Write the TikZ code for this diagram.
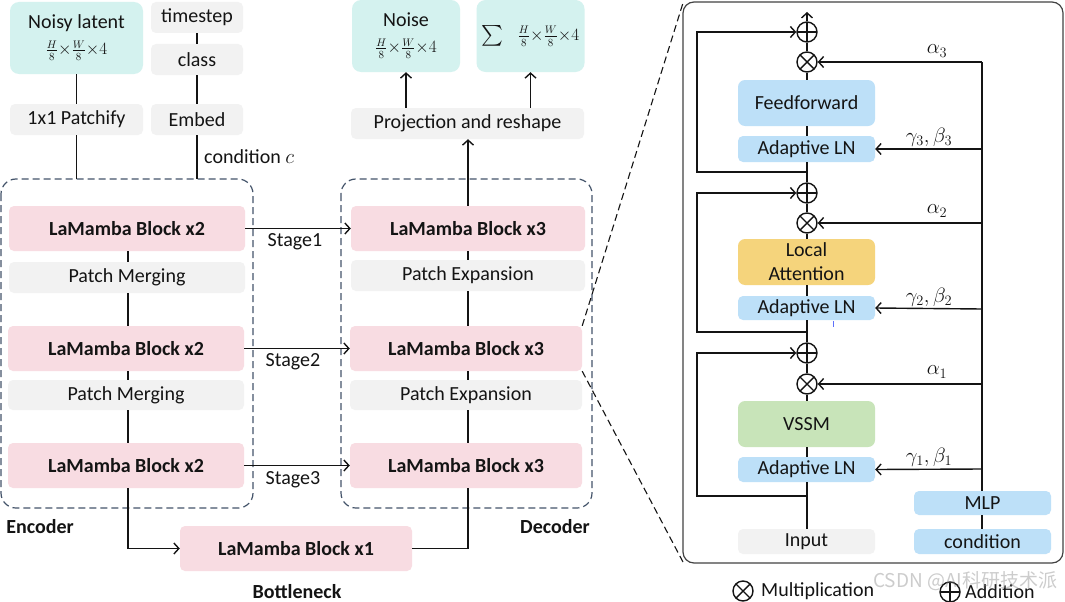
\documentclass[tikz,border=0pt]{standalone}
\usepackage{amsmath}
\usepackage{fontspec}
\setmainfont{Carlito}
\newfontfamily\cjkfont{Noto Sans CJK SC}
\usetikzlibrary{arrows.meta,calc}
\definecolor{cyanbox}{RGB}{212,242,239}
\definecolor{graybox}{RGB}{242,242,242}
\definecolor{pinkbox}{RGB}{248,220,226}
\definecolor{bluebox}{RGB}{189,224,248}
\definecolor{goldbox}{RGB}{245,212,124}
\definecolor{greenbox}{RGB}{200,228,185}
\definecolor{dashc}{RGB}{68,84,106}
\definecolor{txt}{RGB}{20,20,20}
\newcommand\myfs{\fontsize{20}{24}\selectfont}
\newcommand\myfrac{{\fontsize{16}{17}\selectfont$\frac{H}{8}{\times}\frac{W}{8}{\times}4$}}
\tikzset{
  box/.style={rounded corners=5pt, inner sep=0pt, font=\myfs, text=txt, align=center},
  bigbox/.style={box, rounded corners=9pt},
  conn/.style={line width=1.4pt, draw=txt},
  arr/.style={conn, -{Straight Barb[length=5pt,width=11pt,line width=1.4pt]}},
  grp/.style={draw=dashc, dashed, dash pattern=on 7pt off 4pt, line width=1.2pt, rounded corners=15pt},
  zoomline/.style={draw=txt, dashed, dash pattern=on 7pt off 4pt, line width=1.1pt},
  lbl/.style={font=\myfs, text=txt, inner sep=0pt},
  otimesn/.style={circle, draw=txt, line width=1.4pt, minimum size=20pt, inner sep=0pt,
    path picture={\draw[line width=1.4pt, draw=txt] (path picture bounding box.north west) -- (path picture bounding box.south east) (path picture bounding box.north east) -- (path picture bounding box.south west);}},
  oplusn/.style={circle, draw=txt, line width=1.4pt, minimum size=20pt, inner sep=0pt,
    path picture={\draw[line width=1.4pt, draw=txt] (path picture bounding box.north) -- (path picture bounding box.south) (path picture bounding box.east) -- (path picture bounding box.west);}},
}
\begin{document}
\begin{tikzpicture}[x=1pt,y=-1pt]
\useasboundingbox[fill=white] (0,0) rectangle (1065,602);

% ---------- top left inputs ----------
\node[bigbox, fill=cyanbox, minimum width=133pt, minimum height=72pt] (nl) at (76.5,38) {Noisy latent\\[2pt]\myfrac};
\node[box, fill=graybox, minimum width=92pt, minimum height=31pt] (ts) at (197,17.5) {timestep};
\node[box, fill=graybox, minimum width=92pt, minimum height=31pt] (cls) at (197,59.5) {class};
\node[box, fill=graybox, minimum width=133pt, minimum height=31pt] (pat) at (76.5,119.5) {1x1 Patchify};
\node[box, fill=graybox, minimum width=92pt, minimum height=31pt] (emb) at (197,119.5) {Embed};

% ---------- encoder ----------
\draw[grp] (1,179) rectangle (253,508);
\coordinate (enctopA) at (76.5,179);
\coordinate (enctopB) at (197,179);
\node[box, fill=pinkbox, font=\myfs\bfseries, minimum width=236pt, minimum height=45pt] (e1) at (127,228.5) {LaMamba Block x2};
\node[box, fill=graybox, minimum width=236pt, minimum height=31pt] (pm1) at (127,277.5) {Patch Merging};
\node[box, fill=pinkbox, font=\myfs\bfseries, minimum width=236pt, minimum height=45pt] (e2) at (126,348.5) {LaMamba Block x2};
\node[box, fill=graybox, minimum width=236pt, minimum height=30pt] (pm2) at (126,395) {Patch Merging};
\node[box, fill=pinkbox, font=\myfs\bfseries, minimum width=236pt, minimum height=45pt] (e3) at (126,465.5) {LaMamba Block x2};

% ---------- decoder ----------
\draw[grp] (341,179) rectangle (592,508);
\node[box, fill=pinkbox, font=\myfs\bfseries, minimum width=234pt, minimum height=45pt] (d1) at (468,228.5) {LaMamba Block x3};
\node[box, fill=graybox, minimum width=234pt, minimum height=31pt] (pe1) at (468,275.5) {Patch Expansion};
\node[box, fill=pinkbox, font=\myfs\bfseries, minimum width=232pt, minimum height=45pt] (d2) at (466,348.5) {LaMamba Block x3};
\node[box, fill=graybox, minimum width=232pt, minimum height=30pt] (pe2) at (466,395) {Patch Expansion};
\node[box, fill=pinkbox, font=\myfs\bfseries, minimum width=232pt, minimum height=45pt] (d3) at (466,465.5) {LaMamba Block x3};

% ---------- bottleneck ----------
\node[box, fill=pinkbox, font=\myfs\bfseries, minimum width=232pt, minimum height=45pt] (bot) at (296,548.5) {LaMamba Block x1};

% ---------- outputs ----------
\node[box, fill=graybox, minimum width=233pt, minimum height=31pt] (proj) at (467.5,123.5) {Projection and reshape};
\node[bigbox, fill=cyanbox, minimum width=108pt, minimum height=72pt] (noise) at (406,36) {Noise\\[2pt]\myfrac};
\node[bigbox, fill=cyanbox, minimum width=108pt, minimum height=72pt] (sum) at (530.5,36) {$\sum$\hspace{14pt}\myfrac};

% ---------- left connectors ----------
\draw[conn] (nl.south) -- (pat.north);
\draw[conn] (pat.south) -- (enctopA);
\draw[conn] (ts.south) -- (cls.north);
\draw[conn] (cls.south) -- (emb.north);
\draw[conn] (emb.south) -- (enctopB);
\node[lbl, anchor=west] (condlbl) at (204,157) {condition $c$};

\draw[conn] (e1.south -| 128,0) -- (pm1.north -| 128,0);
\draw[conn] (pm1.south -| 128,0) -- (e2.north -| 128,0);
\draw[conn] (e2.south -| 128,0) -- (pm2.north -| 128,0);
\draw[conn] (pm2.south -| 128,0) -- (e3.north -| 128,0);

\draw[conn] (d1.south -| 468,0) -- (pe1.north -| 468,0);
\draw[conn] (pe1.south -| 468,0) -- (d2.north -| 468,0);
\draw[conn] (d2.south -| 468,0) -- (pe2.north -| 468,0);
\draw[conn] (pe2.south -| 468,0) -- (d3.north -| 468,0);

\draw[arr] (e1.east) -- (d1.west |- e1.east);
\draw[arr] (e2.east) -- (d2.west |- e2.east);
\draw[arr] (e3.east) -- (d3.west |- e3.east);
\node[lbl] (s1) at (295,242) {Stage1};
\node[lbl] (s2) at (293,362) {Stage2};
\node[lbl] (s3) at (293,480) {Stage3};

\draw[arr] (e3.south -| 128,0) |- (bot.west);
\draw[conn] (bot.east) -| (d3.south -| 468,0);

\draw[arr] (d1.north -| 468,0) -- (proj.south -| 468,0);
\draw[arr] (proj.north -| noise.south) -- (noise.south);
\draw[arr] (proj.north -| sum.south) -- (sum.south);

\node[lbl, font=\myfs\bfseries] (enclbl) at (40,527) {Encoder};
\node[lbl, font=\myfs\bfseries] (declbl) at (555,527) {Decoder};
\node[lbl, font=\myfs\bfseries] (botlbl) at (297,592) {Bottleneck};

% ---------- right panel ----------
\draw[draw=txt!80, line width=1.2pt, rounded corners=11pt] (683,2) rectangle (1063,563);
\draw[zoomline] (d2.north east) -- (683,3);
\draw[zoomline] (d2.south east) -- (683,562);

\node[box, fill=bluebox, minimum width=137pt, minimum height=46pt, rounded corners=7pt] (ff) at (806.5,103) {Feedforward};
\node[box, fill=bluebox, minimum width=137pt, minimum height=26pt] (ln3) at (806.5,149) {Adaptive LN};
\node[box, fill=goldbox, minimum width=137pt, minimum height=46pt, rounded corners=7pt, font=\fontsize{20}{24}\selectfont] (la) at (806.5,262) {Local\\Attention};
\node[box, fill=bluebox, minimum width=137pt, minimum height=24pt] (ln2) at (806.5,308) {Adaptive LN};
\node[box, fill=greenbox, minimum width=137pt, minimum height=46pt, rounded corners=7pt] (vssm) at (806.5,424) {VSSM};
\node[box, fill=bluebox, minimum width=137pt, minimum height=25pt] (ln1) at (806.5,469.5) {Adaptive LN};
\node[box, fill=graybox, minimum width=137pt, minimum height=25pt] (inp) at (806.5,541.5) {Input};
\node[box, fill=bluebox, minimum width=137pt, minimum height=24pt] (mlp) at (982.5,503) {MLP};
\node[box, fill=bluebox, minimum width=137pt, minimum height=25pt] (cond) at (982.5,541.5) {condition};

\node[oplusn] (p3) at (807,32) {};
\node[otimesn] (t3) at (807,62) {};
\node[oplusn] (p2) at (807,193) {};
\node[otimesn] (t2) at (807,223) {};
\node[oplusn] (p1) at (807,353) {};
\node[otimesn] (t1) at (807,384) {};

\coordinate (outtop) at (807,12);
\coordinate (sk3) at (807,172);
\coordinate (sk2) at (807,332);
\coordinate (sk1) at (807,496);

% main column
\draw[conn] (inp.north -| sk1) -- (ln1.south -| sk1);
\draw[conn] (ln1.north -| sk1) -- (vssm.south -| sk1);
\draw[conn] (vssm.north -| sk1) -- (t1.south);
\draw[conn] (t1.north) -- (p1.south);
\draw[conn] (p1.north) -- (ln2.south -| p1);
\draw[conn] (ln2.north -| p1) -- (la.south -| p1);
\draw[conn] (la.north -| p1) -- (t2.south);
\draw[conn] (t2.north) -- (p2.south);
\draw[conn] (p2.north) -- (ln3.south -| p2);
\draw[conn] (ln3.north -| p2) -- (ff.south -| p2);
\draw[conn] (ff.north -| p2) -- (t3.south);
\draw[conn] (t3.north) -- (p3.south);
\draw[arr] (p3.north) -- (outtop);

% skips
\draw[arr] (sk1) -- (697,496) |- (p1.west);
\draw[arr] (sk2) -- (697,332) |- (p2.west);
\draw[arr] (sk3) -- (697,172) |- (p3.west);

% condition trunk
\coordinate (trunktop) at (982,62);
\draw[conn] (mlp.south -| trunktop) -- (cond.north -| trunktop);
\draw[conn] (mlp.north -| trunktop) -- (trunktop);
\draw[arr] (trunktop) -- (t3.east);
\draw[arr] (982,149) -- (ln3.east);
\draw[arr] (982,223) -- (t2.east);
\draw[arr] (982,309) -- (ln2.east);
\draw[arr] (982,384) -- (t1.east);
\draw[arr] (982,469) -- (ln1.east);

\node[lbl, font=\fontsize{21}{24}\selectfont] (a3) at (937,51) {$\alpha_3$};
\node[lbl, font=\fontsize{21}{24}\selectfont] (g3) at (929,137) {$\gamma_3,\beta_3$};
\node[lbl, font=\fontsize{21}{24}\selectfont] (a2) at (937,211) {$\alpha_2$};
\node[lbl, font=\fontsize{21}{24}\selectfont] (g2) at (929,297) {$\gamma_2,\beta_2$};
\node[lbl, font=\fontsize{21}{24}\selectfont] (a1) at (937,372) {$\alpha_1$};
\node[lbl, font=\fontsize{21}{24}\selectfont] (g1) at (929,457) {$\gamma_1,\beta_1$};

% small tick
\draw[draw=bluebox!50!blue, line width=1pt] (833,321) -- (833,327);

% legend
\node[otimesn] (lgt) at (743,591) {};
\node[lbl, anchor=west] (lgtl) at (761,591) {Multiplication};
\node[oplusn] (lgp) at (950,592) {};
\node[lbl, anchor=west] (lgpl) at (965,592) {Addition};
\node[lbl, text=gray, opacity=0.4, font=\cjkfont\fontsize{19}{22}\selectfont, anchor=west] (wm) at (873,581) {CSDN @AI科研技术派};
\end{tikzpicture}
\end{document}
